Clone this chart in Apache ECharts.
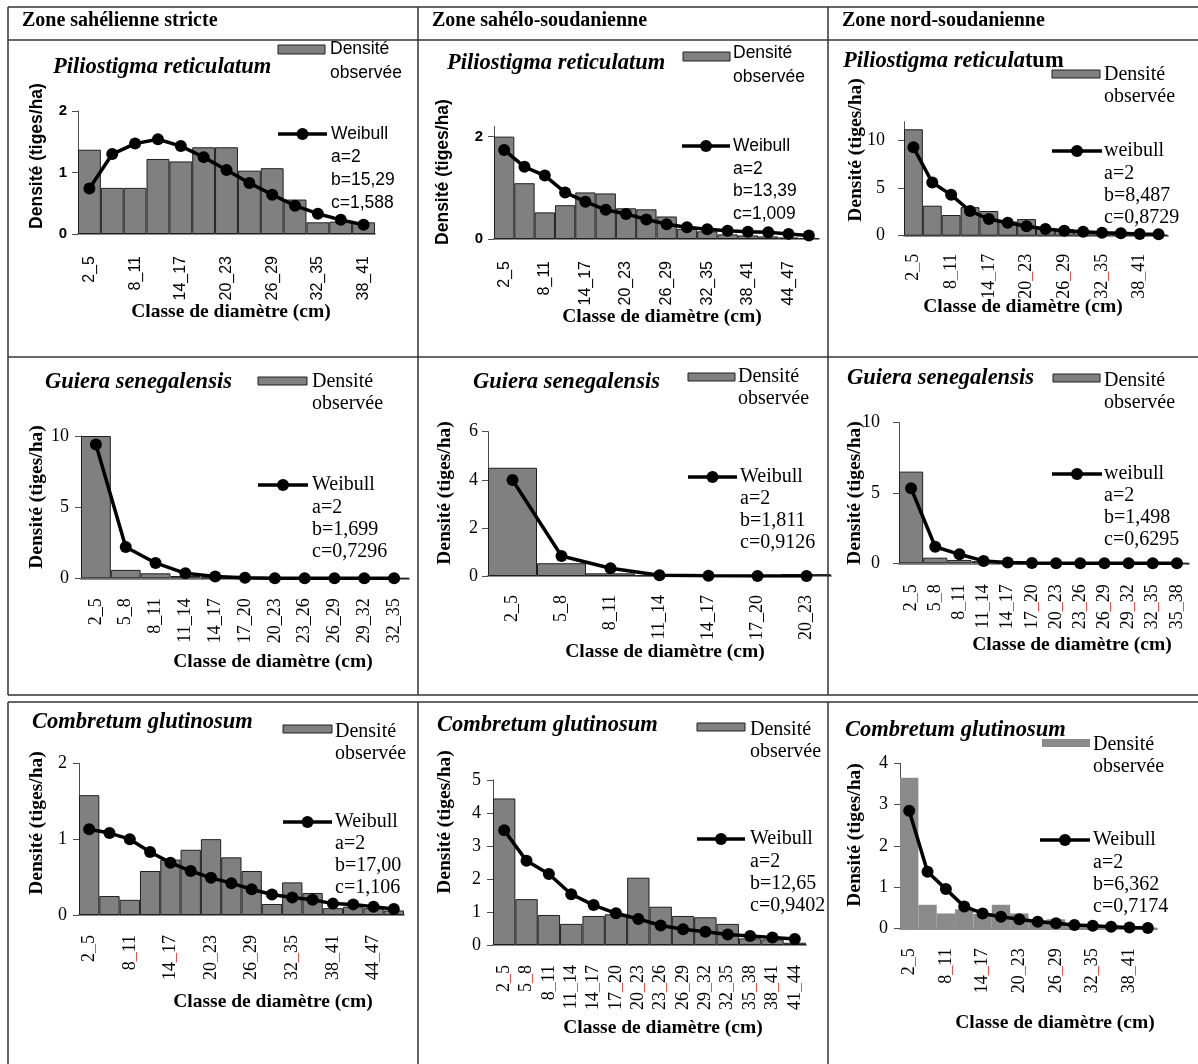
<!DOCTYPE html>
<html><head><meta charset="utf-8">
<script src="https://cdn.jsdelivr.net/npm/echarts@6.0.0/dist/echarts.min.js"></script>
<style>html,body{margin:0;padding:0;background:#fff}#chart{width:1198px;height:1064px}</style>
</head><body><div id="chart"></div>
<script>
// ---------------- DATA ----------------
const zones = ['Zone sahélienne stricte', 'Zone sahélo-soudanienne', 'Zone nord-soudanienne'];
const species = ['Piliostigma reticulatum', 'Guiera senegalensis', 'Combretum glutinosum'];
const barName = 'Densité observée';
const yAxisTitle = 'Densité (tiges/ha)';
const xAxisTitle = 'Classe de diamètre (cm)';

// Row 1 : Piliostigma reticulatum
const categories_P1 = ['2_5','5_8','8_11','11_14','14_17','17_20','20_23','23_26','26_29','29_32','32_35','35_38','38_41'];
const observed_P1 = [1.37, 0.75, 0.75, 1.22, 1.18, 1.41, 1.41, 1.03, 1.07, 0.56, 0.19, 0.2, 0.19];
const weibull_P1 = [0.74, 1.3, 1.47, 1.54, 1.43, 1.25, 1.04, 0.83, 0.64, 0.46, 0.33, 0.23, 0.15];
const params_P1 = ['a=2', 'b=15,29', 'c=1,588'];
const yTicks_P1 = [0, 1, 2];

const categories_P2 = ['2_5','5_8','8_11','11_14','14_17','17_20','20_23','23_26','26_29','29_32','32_35','35_38','38_41','41_44','44_47','47_50'];
const observed_P2 = [2.0, 1.09, 0.52, 0.66, 0.91, 0.89, 0.6, 0.58, 0.44, 0.2, 0.15, 0.09, 0.07, 0.05, 0.03, 0.02];
const weibull_P2 = [1.74, 1.41, 1.24, 0.91, 0.73, 0.57, 0.49, 0.38, 0.29, 0.23, 0.19, 0.16, 0.14, 0.13, 0.1, 0.07];
const params_P2 = ['a=2', 'b=13,39', 'c=1,009'];
const yTicks_P2 = [0, 2];

const categories_P3 = ['2_5','5_8','8_11','11_14','14_17','17_20','20_23','23_26','26_29','29_32','32_35','35_38','38_41','41_44'];
const observed_P3 = [11.2, 3.16, 2.18, 3.0, 2.6, 1.5, 1.75, 0.8, 0.7, 0.4, 0.3, 0.2, 0.15, 0.1];
const weibull_P3 = [9.3, 5.6, 4.3, 2.6, 1.75, 1.37, 1.0, 0.7, 0.53, 0.42, 0.32, 0.25, 0.18, 0.15];
const params_P3 = ['a=2', 'b=8,487', 'c=0,8729'];
const yTicks_P3 = [0, 5, 10];

// Row 2 : Guiera senegalensis
const categories_P4 = ['2_5','5_8','8_11','11_14','14_17','17_20','20_23','23_26','26_29','29_32','32_35'];
const observed_P4 = [10.0, 0.59, 0.35, 0.16, 0.06, 0.03, 0.02, 0.01, 0.01, 0, 0];
const weibull_P4 = [9.41, 2.2, 1.08, 0.35, 0.12, 0.04, 0.01, 0, 0, 0, 0];
const params_P4 = ['a=2', 'b=1,699', 'c=0,7296'];
const yTicks_P4 = [0, 5, 10];

const categories_P5 = ['2_5','5_8','8_11','11_14','14_17','17_20','20_23'];
const observed_P5 = [4.5, 0.53, 0.11, 0.03, 0.01, 0.01, 0.08];
const weibull_P5 = [3.99, 0.83, 0.32, 0.03, 0.01, 0, 0];
const params_P5 = ['a=2', 'b=1,811', 'c=0,9126'];
const yTicks_P5 = [0, 2, 4, 6];

const categories_P6 = ['2_5','5_8','8_11','11_14','14_17','17_20','20_23','23_26','26_29','29_32','32_35','35_38'];
const observed_P6 = [6.52, 0.4, 0.24, 0.15, 0.05, 0.03, 0.02, 0.01, 0.01, 0, 0, 0];
const weibull_P6 = [5.33, 1.18, 0.64, 0.17, 0.05, 0.02, 0.01, 0, 0, 0, 0, 0];
const params_P6 = ['a=2', 'b=1,498', 'c=0,6295'];
const yTicks_P6 = [0, 5, 10];

// Row 3 : Combretum glutinosum
const categories_P7 = ['2_5','5_8','8_11','11_14','14_17','17_20','20_23','23_26','26_29','29_32','32_35','35_38','38_41','41_44','44_47','47_50'];
const observed_P7 = [1.58, 0.25, 0.2, 0.58, 0.73, 0.86, 1.0, 0.76, 0.58, 0.145, 0.43, 0.29, 0.09, 0.11, 0.09, 0.06];
const weibull_P7 = [1.13, 1.08, 1.0, 0.83, 0.69, 0.58, 0.49, 0.42, 0.34, 0.27, 0.23, 0.2, 0.15, 0.14, 0.11, 0.08];
const params_P7 = ['a=2', 'b=17,00', 'c=1,106'];
const yTicks_P7 = [0, 1, 2];

const categories_P8 = ['2_5','5_8','8_11','11_14','14_17','17_20','20_23','23_26','26_29','29_32','32_35','35_38','38_41','41_44'];
const observed_P8 = [4.44, 1.39, 0.91, 0.64, 0.88, 0.93, 2.04, 1.16, 0.88, 0.84, 0.64, 0.2, 0.17, 0.07];
const weibull_P8 = [3.48, 2.55, 2.15, 1.54, 1.21, 0.96, 0.79, 0.59, 0.48, 0.4, 0.32, 0.27, 0.23, 0.18];
const params_P8 = ['a=2', 'b=12,65', 'c=0,9402'];
const yTicks_P8 = [0, 1, 2, 3, 4, 5];

const categories_P9 = ['2_5','5_8','8_11','11_14','14_17','17_20','20_23','23_26','26_29','29_32','32_35','35_38','38_41','41_44'];
const observed_P9 = [3.65, 0.57, 0.36, 0.46, 0.35, 0.57, 0.36, 0.2, 0.22, 0.1, 0.05, 0.04, 0.03, 0.02];
const weibull_P9 = [2.85, 1.37, 0.95, 0.53, 0.36, 0.28, 0.22, 0.16, 0.12, 0.08, 0.06, 0.04, 0.02, 0.01];
const params_P9 = ['a=2', 'b=6,362', 'c=0,7174'];
const yTicks_P9 = [0, 1, 2, 3, 4];

const curveNames = ['Weibull', 'Weibull', 'weibull', 'Weibull', 'Weibull', 'weibull', 'Weibull', 'Weibull', 'Weibull'];

// ---------------- LAYOUT / STYLE ----------------
const SANS = "'Liberation Sans', Arial, sans-serif";
const SERIF = "'Liberation Serif', 'Times New Roman', serif";

const panels = [
  {cats: categories_P1, obs: observed_P1, wei: weibull_P1, params: params_P1, yTicks: yTicks_P1, sp: 0,
   grid: [78, 111, 297, 123], max: 2, interval: 1, sans: true, xInt: 1, xMargin: 22, yMargin: 11, red: false,
   title: [53, 67], rect: [278, 45, 47, 9], legTxt: [330, 49], lh: 24, wline: [278, 327, 134], wTxt: [331, 134], plh: 23, yTitle: [37, 156], xTitle: [231, 312]},
  {cats: categories_P2, obs: observed_P2, wei: weibull_P2, params: params_P2, yTicks: yTicks_P2, sp: 0,
   grid: [494, 126.4, 325, 112.6], max: 2.2, interval: 2, sans: true, xInt: 1, xMargin: 22, yMargin: 11, red: false,
   title: [447, 63], rect: [683, 52, 47, 9], legTxt: [733, 53], lh: 24, wline: [682, 730, 146], wTxt: [733, 146], plh: 22.7, yTitle: [443, 172], xTitle: [662, 317]},
  {cats: categories_P3, obs: observed_P3, wei: weibull_P3, params: params_P3, yTicks: yTicks_P3, sp: 0, splitTitle: true,
   grid: [904, 121.7, 264, 114], max: 12, interval: 5, sans: false, xInt: 1, xMargin: 18, yMargin: 19, red: true,
   title: [843, 61], rect: [1052, 70, 48, 8], legTxt: [1104, 75], lh: 22, wline: [1052, 1102, 151], wTxt: [1104, 151], plh: 22.3, yTitle: [856, 150], xTitle: [1023, 307]},
  {cats: categories_P4, obs: observed_P4, wei: weibull_P4, params: params_P4, yTicks: yTicks_P4, sp: 1,
   grid: [81, 436, 328, 142.3], max: 10, interval: 5, sans: false, xInt: 0, xMargin: 20, yMargin: 12, red: false,
   title: [45, 382], rect: [258, 377, 49, 8], legTxt: [312, 382], lh: 21.5, wline: [258, 308, 485], wTxt: [312, 485], plh: 22.3, yTitle: [37, 497], xTitle: [273, 662]},
  {cats: categories_P5, obs: observed_P5, wei: weibull_P5, params: params_P5, yTicks: yTicks_P5, sp: 1,
   grid: [488, 431.7, 343, 144.3], max: 6, interval: 2, sans: false, xInt: 0, xMargin: 19, yMargin: 10, red: false,
   title: [473, 382], rect: [688, 373, 47, 8], legTxt: [738, 377], lh: 22, wline: [688, 737, 477], wTxt: [740, 477], plh: 22, yTitle: [445, 493], xTitle: [665, 652]},
  {cats: categories_P6, obs: observed_P6, wei: weibull_P6, params: params_P6, yTicks: yTicks_P6, sp: 1,
   grid: [899, 422.7, 290, 140.6], max: 10, interval: 5, sans: false, xInt: 0, xMargin: 21, yMargin: 19, red: true,
   title: [847, 378], rect: [1053, 374, 47, 8], legTxt: [1104, 381], lh: 22, wline: [1052, 1102, 474], wTxt: [1104, 474], plh: 22, yTitle: [855, 493], xTitle: [1072, 645]},
  {cats: categories_P7, obs: observed_P7, wei: weibull_P7, params: params_P7, yTicks: yTicks_P7, sp: 2,
   grid: [79, 763.3, 325, 151.7], max: 2, interval: 1, sans: false, xInt: 1, xMargin: 20, yMargin: 12, red: true,
   title: [32, 722], rect: [283, 725, 49, 8], legTxt: [335, 732], lh: 21.5, wline: [283, 332, 822], wTxt: [335, 822], plh: 22, yTitle: [37, 823], xTitle: [273, 1002]},
  {cats: categories_P8, obs: observed_P8, wei: weibull_P8, params: params_P8, yTicks: yTicks_P8, sp: 2,
   grid: [493, 780, 313, 165], max: 5, interval: 1, sans: false, xInt: 0, xMargin: 20, yMargin: 12, red: true,
   title: [437, 725], rect: [697, 723, 48, 8], legTxt: [750, 730], lh: 22, wline: [697, 745, 839], wTxt: [750, 839], plh: 22.3, yTitle: [445, 822], xTitle: [663, 1028]},
  {cats: categories_P9, obs: observed_P9, wei: weibull_P9, params: params_P9, yTicks: yTicks_P9, sp: 2, noBorder: true,
   grid: [900, 763.3, 257, 165], max: 4, interval: 1, sans: false, xInt: 1, xMargin: 20, yMargin: 12, red: true,
   title: [845, 730], rect: [1042, 739, 48, 8], legTxt: [1093, 745], lh: 22, wline: [1040, 1090, 840], wTxt: [1093, 840], plh: 22.3, yTitle: [855, 835], xTitle: [1055, 1023]}
];

const grids = [], xAxes = [], yAxes = [], series = [], graphics = [];

panels.forEach((p, i) => {
  const fam = p.sans ? SANS : SERIF;
  const tickSize = p.sans ? 15 : 18;
  const xLabSize = p.sans ? 16 : 18;
  const legSize = p.sans ? 17.5 : 20;
  grids.push({left: p.grid[0], top: p.grid[1], width: p.grid[2], height: p.grid[3], containLabel: false, outerBoundsMode: 'none'});
  xAxes.push({
    type: 'category', gridIndex: i, data: p.cats, boundaryGap: true,
    axisLine: {show: true, lineStyle: {color: '#8c8c8c', width: 2}},
    axisTick: {show: false},
    axisLabel: {
      interval: p.xInt, rotate: 90, margin: p.xMargin, color: '#000', fontFamily: fam, fontSize: xLabSize,
      formatter: p.red ? (v => v.replace('_', '{u|_}')) : (v => v),
      rich: {u: {color: '#d9534f', fontFamily: fam, fontSize: xLabSize}}
    },
    splitLine: {show: false}
  });
  yAxes.push({
    type: 'value', gridIndex: i, min: 0, max: p.max, interval: p.interval,
    axisLine: {show: true, lineStyle: {color: '#4d4d4d', width: 1}},
    axisTick: {show: true, length: 6, lineStyle: {color: '#4d4d4d'}, customValues: p.yTicks},
    axisLabel: {customValues: p.yTicks, margin: p.yMargin, color: '#000', fontFamily: fam, fontSize: tickSize,
      fontWeight: p.sans ? 'bold' : 'normal',
      formatter: v => (p.yTicks.indexOf(v) >= 0 ? String(v) : '')},
    splitLine: {show: false}
  });
  series.push({
    name: barName, type: 'bar', xAxisIndex: i, yAxisIndex: i, data: p.obs,
    barCategoryGap: '0%',
    itemStyle: p.noBorder ? {color: '#8a8a8a', borderWidth: 0} : {color: '#808080', borderColor: '#1f1f1f', borderWidth: 1}
  });
  series.push({
    name: curveNames[i], type: 'line', xAxisIndex: i, yAxisIndex: i, data: p.wei,
    symbol: 'circle', symbolSize: 12,
    lineStyle: {color: '#000', width: 3.5}, itemStyle: {color: '#000'}, z: 5
  });

  // species title
  if (p.splitTitle) {
    graphics.push({type: 'text', x: p.title[0], y: p.title[1], silent: true,
      style: {text: '{i|Piliostigma reticula}{n|tum}', textVerticalAlign: 'middle',
        rich: {i: {fontFamily: SERIF, fontSize: 22.5, fontStyle: 'italic', fontWeight: 'bold', fill: '#000'},
               n: {fontFamily: SERIF, fontSize: 22.5, fontWeight: 'bold', fill: '#000'}}}});
  } else {
    graphics.push({type: 'text', x: p.title[0], y: p.title[1], silent: true,
      style: {text: species[p.sp], fontFamily: SERIF, fontSize: 22.5, fontStyle: 'italic', fontWeight: 'bold', fill: '#000', textVerticalAlign: 'middle'}});
  }
  // legend: observed density
  graphics.push({type: 'rect', silent: true, shape: {x: p.rect[0], y: p.rect[1], width: p.rect[2], height: p.rect[3]},
    style: p.noBorder ? {fill: '#8a8a8a'} : {fill: '#808080', stroke: '#1f1f1f', lineWidth: 1}});
  graphics.push({type: 'text', x: p.legTxt[0], y: p.legTxt[1] - p.lh / 2, silent: true,
    style: {text: 'Densité\nobservée', fontFamily: fam, fontSize: legSize, lineHeight: p.lh, fill: '#000', textVerticalAlign: 'top'}});
  // legend: weibull
  graphics.push({type: 'line', silent: true, shape: {x1: p.wline[0], y1: p.wline[2], x2: p.wline[1], y2: p.wline[2]},
    style: {stroke: '#000', lineWidth: 3.5}});
  graphics.push({type: 'circle', silent: true, shape: {cx: (p.wline[0] + p.wline[1]) / 2, cy: p.wline[2], r: 6},
    style: {fill: '#000'}});
  graphics.push({type: 'text', x: p.wTxt[0], y: p.wTxt[1] - p.plh / 2, silent: true,
    style: {text: [curveNames[i]].concat(p.params).join('\n'), fontFamily: fam, fontSize: legSize, lineHeight: p.plh, fill: '#000', textVerticalAlign: 'top'}});
  // axis titles
  graphics.push({type: 'text', x: p.yTitle[0], y: p.yTitle[1], rotation: Math.PI / 2, silent: true,
    style: {text: yAxisTitle, fontFamily: fam, fontSize: p.sans ? 17.5 : 19.5, fontWeight: 'bold', fill: '#000', textAlign: 'center', textVerticalAlign: 'middle'}});
  graphics.push({type: 'text', x: p.xTitle[0], y: p.xTitle[1], silent: true,
    style: {text: xAxisTitle, fontFamily: SERIF, fontSize: 19.5, fontWeight: 'bold', fill: '#000', textAlign: 'center', textVerticalAlign: 'middle'}});
});

// zone headers
[22, 432, 842].forEach((x, k) => {
  graphics.push({type: 'text', x: x, y: 21, silent: true,
    style: {text: zones[k], fontFamily: SERIF, fontSize: 20, fontWeight: 'bold', fill: '#000', textVerticalAlign: 'middle'}});
});

// table borders
const tableLines = [
  [8, 7, 1198, 7], [8, 40, 1198, 40], [8, 357, 1198, 357], [8, 695, 1198, 695], [8, 702, 1198, 702],
  [8, 7, 8, 695], [418, 7, 418, 695], [828, 7, 828, 695],
  [8, 702, 8, 1064], [418, 702, 418, 1064], [828, 702, 828, 1064]
];
tableLines.forEach(l => graphics.push({type: 'line', silent: true, z: 100,
  shape: {x1: l[0], y1: l[1], x2: l[2], y2: l[3]}, style: {stroke: '#333', lineWidth: 1.5}}));

const chart = echarts.init(document.getElementById('chart'), null, {renderer: 'canvas'});
chart.setOption({
  backgroundColor: '#fff',
  animation: false,
  grid: grids, xAxis: xAxes, yAxis: yAxes, series: series,
  graphic: {elements: graphics}
});
</script></body></html>
